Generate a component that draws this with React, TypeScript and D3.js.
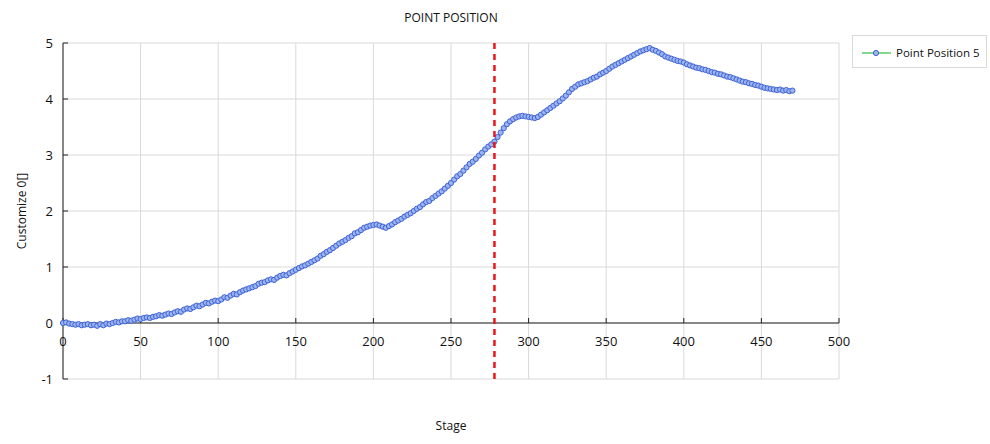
import React from "react";
import * as d3 from "d3";

const title = "POINT POSITION";
const xLabel = "Stage";
const yLabel = "Customize 0[]";
const seriesName = "Point Position 5";
const xTicks = [0, 50, 100, 150, 200, 250, 300, 350, 400, 450, 500];
const yTicks = [-1, 0, 1, 2, 3, 4, 5];
const markerStage = 278;
const stageStep = 2;
const values = [
  0, 0.01, -0.01, -0.02, -0.03, -0.02, -0.04, -0.03, -0.02, -0.04,
  -0.03, -0.05, -0.02, -0.04, -0.01, -0.02, 0.0, 0.02, 0.01, 0.03,
  0.03, 0.05, 0.04, 0.06, 0.08, 0.07, 0.09, 0.1, 0.09, 0.11,
  0.12, 0.14, 0.13, 0.15, 0.17, 0.16, 0.19, 0.21, 0.2, 0.24,
  0.26, 0.25, 0.28, 0.31, 0.3, 0.33, 0.36, 0.35, 0.38, 0.4,
  0.39, 0.42, 0.46, 0.45, 0.49, 0.52, 0.51, 0.55, 0.58, 0.6,
  0.62, 0.64, 0.66, 0.7, 0.72, 0.73, 0.76, 0.78, 0.77, 0.81,
  0.84, 0.86, 0.85, 0.89, 0.92, 0.95, 0.98, 1.01, 1.03, 1.06,
  1.09, 1.12, 1.15, 1.2, 1.23, 1.27, 1.3, 1.34, 1.38, 1.42,
  1.45, 1.48, 1.52, 1.55, 1.6, 1.62, 1.66, 1.7, 1.72, 1.74,
  1.75, 1.76, 1.74, 1.72, 1.7, 1.73, 1.76, 1.8, 1.83, 1.86,
  1.9, 1.93, 1.96, 2.0, 2.04, 2.07, 2.12, 2.16, 2.18, 2.23,
  2.27, 2.31, 2.35, 2.4, 2.45, 2.5, 2.56, 2.62, 2.66, 2.72,
  2.78, 2.84, 2.88, 2.93, 2.99, 3.04, 3.1, 3.15, 3.19, 3.24,
  3.32, 3.4, 3.48, 3.55, 3.6, 3.64, 3.67, 3.69, 3.7, 3.69,
  3.68, 3.67, 3.66, 3.68, 3.72, 3.76, 3.8, 3.84, 3.88, 3.92,
  3.96, 4.01, 4.06, 4.12, 4.18, 4.22, 4.26, 4.28, 4.3, 4.32,
  4.35, 4.38, 4.4, 4.44, 4.47, 4.5, 4.54, 4.58, 4.61, 4.64,
  4.67, 4.7, 4.73, 4.76, 4.79, 4.82, 4.85, 4.87, 4.89, 4.91,
  4.88, 4.86, 4.83, 4.8, 4.76, 4.74, 4.72, 4.7, 4.68, 4.67,
  4.65, 4.62, 4.6, 4.58, 4.56, 4.55, 4.53, 4.52, 4.5, 4.48,
  4.47, 4.45, 4.44, 4.42, 4.4, 4.39, 4.37, 4.35, 4.33, 4.31,
  4.3, 4.28, 4.27, 4.25, 4.24, 4.22, 4.2, 4.19, 4.18, 4.17,
  4.16, 4.17, 4.15, 4.16, 4.14, 4.15,
];

const W = 990;
const H = 444;
const L = 63, R = 839, T = 43, B = 379;
const FONT = "'Open Sans', 'DejaVu Sans', sans-serif";

export default function App() {
  const x = d3.scaleLinear().domain([0, 500]).range([L, R]);
  const y = d3.scaleLinear().domain([-1, 5]).range([B, T]);
  const pts = values.map((v, i) => [i * stageStep, v] as [number, number]);
  const line = d3.line<[number, number]>().x((d) => x(d[0])).y((d) => y(d[1]));
  const lineColor = "#3d63d6";
  const fillColor = "#9db4ef";
  return (
    <svg width={W} height={H} style={{ position: "absolute", left: 0, top: 0, background: "#fff" }}>
      <rect x={0} y={0} width={W} height={H} fill="#fff" />
      <text x={451} y={22} textAnchor="middle" fontFamily={FONT} fontSize={12} fill="#111">{title}</text>
      {xTicks.map((t) => (
        <line key={"gx" + t} x1={x(t)} x2={x(t)} y1={T} y2={B} stroke="#d9d9d9" strokeWidth={1} />
      ))}
      {yTicks.map((t) => (
        <line key={"gy" + t} x1={L} x2={R} y1={y(t)} y2={y(t)} stroke="#d9d9d9" strokeWidth={1} />
      ))}
      <line x1={L} x2={R} y1={y(0)} y2={y(0)} stroke="#222" strokeWidth={1} />
      <line x1={L} x2={L} y1={T} y2={B} stroke="#222" strokeWidth={1} />
      {xTicks.map((t) => (
        <line key={"tx" + t} x1={x(t)} x2={x(t)} y1={y(0)} y2={y(0) - 5} stroke="#222" />
      ))}
      {yTicks.map((t) => (
        <line key={"ty" + t} x1={L} x2={L + 5} y1={y(t)} y2={y(t)} stroke="#222" />
      ))}
      {xTicks.map((t) => (
        <text key={"lx" + t} x={x(t)} y={y(0) + 23} textAnchor="middle" fontFamily={FONT} fontSize={13} fill="#111">{t}</text>
      ))}
      {yTicks.map((t) => (
        <text key={"ly" + t} x={53} y={y(t) + 5} textAnchor="end" fontFamily={FONT} fontSize={13} fill="#111">{t}</text>
      ))}
      <text x={451} y={430} textAnchor="middle" fontFamily={FONT} fontSize={12} fill="#111">{xLabel}</text>
      <text transform={`translate(26,${(T + B) / 2}) rotate(-90)`} textAnchor="middle" fontFamily={FONT} fontSize={12} fill="#111">{yLabel}</text>
      <path d={line(pts) || ""} fill="none" stroke={lineColor} strokeWidth={1.2} />
      {pts.map((p, i) => (
        <circle key={i} cx={x(p[0])} cy={y(p[1])} r={2.6} fill={fillColor} stroke={lineColor} strokeWidth={1} />
      ))}
      <line x1={x(markerStage)} x2={x(markerStage)} y1={T} y2={B} stroke="#e8161d" strokeWidth={2.5} strokeDasharray="6,5" />
      <rect x={852.5} y={35.5} width={134} height={32} fill="#fff" stroke="#d9d9d9" />
      <line x1={862} x2={891} y1={53} y2={53} stroke="#2fbf3a" strokeWidth={1.2} />
      <circle cx={876} cy={53} r={2.6} fill={fillColor} stroke={lineColor} strokeWidth={1} />
      <text x={896} y={57} fontFamily={FONT} fontSize={11.5} fill="#111">{seriesName}</text>
    </svg>
  );
}
